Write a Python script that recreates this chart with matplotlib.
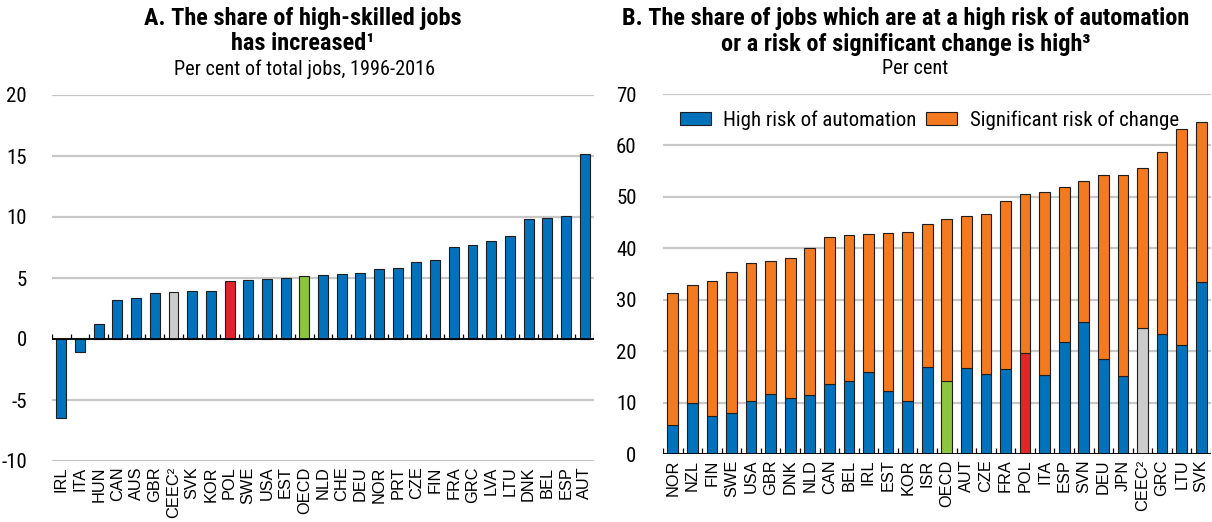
import numpy as np
import matplotlib
matplotlib.use('Agg')
import matplotlib.pyplot as plt
from matplotlib.patches import Patch
from matplotlib import font_manager

# Panel A data
skillCountries = ['IRL', 'ITA', 'HUN', 'CAN', 'AUS', 'GBR', 'CEEC²', 'SVK', 'KOR', 'POL',
                  'SWE', 'USA', 'EST', 'OECD', 'NLD', 'CHE', 'DEU', 'NOR', 'PRT', 'CZE',
                  'FIN', 'FRA', 'GRC', 'LVA', 'LTU', 'DNK', 'BEL', 'ESP', 'AUT']
skillShare = [-6.5, -1.1, 1.2, 3.2, 3.4, 3.8, 3.85, 3.9, 3.95, 4.75,
              4.85, 4.95, 5.0, 5.15, 5.25, 5.35, 5.45, 5.75, 5.8, 6.35,
              6.5, 7.55, 7.7, 8.0, 8.45, 9.85, 9.95, 10.05, 15.15]

# Panel B data
riskCountries = ['NOR', 'NZL', 'FIN', 'SWE', 'USA', 'GBR', 'DNK', 'NLD', 'CAN', 'BEL',
                 'IRL', 'EST', 'KOR', 'ISR', 'OECD', 'AUT', 'CZE', 'FRA', 'POL', 'ITA',
                 'ESP', 'SVN', 'DEU', 'JPN', 'CEEC²', 'GRC', 'LTU', 'SVK']
highRisk = [5.6, 10.0, 7.3, 8.0, 10.3, 11.7, 10.8, 11.4, 13.6, 14.1,
            16.0, 12.3, 10.4, 16.9, 14.1, 16.8, 15.6, 16.5, 19.7, 15.3,
            21.7, 25.7, 18.4, 15.2, 24.5, 23.4, 21.1, 33.5]
totalRisk = [31.4, 32.8, 33.6, 35.4, 37.2, 37.6, 38.2, 40.1, 42.1, 42.5,
             42.7, 42.9, 43.2, 44.8, 45.6, 46.3, 46.7, 49.2, 50.5, 50.9,
             52.0, 53.1, 54.2, 54.3, 55.6, 58.8, 63.1, 64.6]

BLUE = '#0072BC'
ORANGE = '#F47A20'
RED = '#E2242B'
GREEN = '#8CC63F'
GREY = '#CCCCCC'
GRID = '#C8C8C8'
EDGE = '#1E1E1E'

def barColour(name):
    if name == 'POL':
        return RED
    if name == 'OECD':
        return GREEN
    if name.startswith('CEEC'):
        return GREY
    return BLUE

# look for a condensed face, otherwise fall back to Liberation Sans
installed = {f.name for f in font_manager.fontManager.ttflist}
narrowName = 'Liberation Sans'
for cand in ['Liberation Sans Narrow', 'Roboto Condensed', 'Open Sans Condensed',
             'Noto Sans Condensed', 'DejaVu Sans Condensed']:
    if cand in installed:
        narrowName = cand
        break
isNarrow = narrowName != 'Liberation Sans'
plt.rcParams['font.family'] = [narrowName, 'DejaVu Sans']
plt.rcParams['axes.unicode_minus'] = False

scale = 1.0 if isNarrow else 0.86
W, H = 1212, 522
fig = plt.figure(figsize=(W / 100, H / 100), dpi=100)

def style(ax, pad):
    for s in ax.spines.values():
        s.set_visible(False)
    ax.tick_params(axis='y', length=0, pad=pad, labelsize=15 * scale)
    ax.tick_params(axis='x', length=0, pad=4)
    ax.yaxis.grid(True, color=GRID, lw=1.6)
    ax.set_axisbelow(True)
    for lab in ax.get_xticklabels():
        lab.set_fontfamily(['Liberation Sans', 'DejaVu Sans'])
        lab.set_fontsize(11.8)

# ---- Panel A ----
axA = fig.add_axes([52 / W, 1 - 461 / H, 542 / W, 366 / H])
xA = np.arange(len(skillCountries))
axA.bar(xA, skillShare, width=0.53, color=[barColour(c) for c in skillCountries],
        edgecolor=EDGE, linewidth=0.8, zorder=3)
axA.set_xlim(-0.5, len(skillCountries) - 0.5)
axA.set_ylim(-10, 20)
axA.set_yticks([-10, -5, 0, 5, 10, 15, 20])
axA.set_xticks(xA)
axA.set_xticklabels(skillCountries, rotation=90)
axA.axhline(0, color='black', lw=1.3, zorder=4)
axA.vlines(np.arange(len(skillCountries) + 1) - 0.5, 0, 0.45, color='black', lw=0.9, zorder=4)
style(axA, 18)

# ---- Panel B ----
axB = fig.add_axes([663 / W, 1 - 454 / H, 548 / W, 360 / H])
xB = np.arange(len(riskCountries))
changeRisk = np.array(totalRisk) - np.array(highRisk)
axB.bar(xB, highRisk, width=0.55, color=[barColour(c) for c in riskCountries],
        edgecolor=EDGE, linewidth=0.8, zorder=3)
axB.bar(xB, changeRisk, bottom=highRisk, width=0.55, color=ORANGE,
        edgecolor=EDGE, linewidth=0.8, zorder=3)
axB.set_xlim(-0.5, len(riskCountries) - 0.5)
axB.set_ylim(0, 70)
axB.set_yticks(range(0, 71, 10))
axB.set_xticks(xB)
axB.set_xticklabels(riskCountries, rotation=90)
axB.axhline(0, color='black', lw=2, zorder=4)
axB.vlines(np.arange(len(riskCountries) + 1) - 0.5, 0, 1.1, color='black', lw=0.9, zorder=4)
style(axB, 19)

handles = [Patch(facecolor=BLUE, edgecolor=EDGE, lw=0.8, label='High risk of automation'),
           Patch(facecolor=ORANGE, edgecolor=EDGE, lw=0.8, label='Significant risk of change')]
axB.legend(handles=handles, ncol=2, loc='upper left', bbox_to_anchor=(0.015, 0.978),
           frameon=False, fontsize=15 * scale, handlelength=1.5, handleheight=0.55,
           handletextpad=0.6, columnspacing=0.45, borderaxespad=0)

# ---- Titles ----
tsize = 17.5 * scale
fig.text(303 / W, 1 - 19 / H, 'A. The share of high-skilled jobs', ha='center', va='center',
         fontsize=tsize, fontweight='bold')
fig.text(303 / W, 1 - 44 / H, 'has increased¹', ha='center', va='center',
         fontsize=tsize, fontweight='bold')
fig.text(305 / W, 1 - 69 / H, 'Per cent of total jobs, 1996-2016', ha='center', va='center',
         fontsize=14.6 * scale)
fig.text(906 / W, 1 - 19 / H, 'B. The share of jobs which are at a high risk of automation',
         ha='center', va='center', fontsize=tsize, fontweight='bold')
fig.text(906 / W, 1 - 44 / H, 'or a risk of significant change is high³', ha='center',
         va='center', fontsize=tsize, fontweight='bold')
fig.text(915 / W, 1 - 69 / H, 'Per cent', ha='center', va='center', fontsize=14.6 * scale)

fig.savefig('out.png', dpi=100)
